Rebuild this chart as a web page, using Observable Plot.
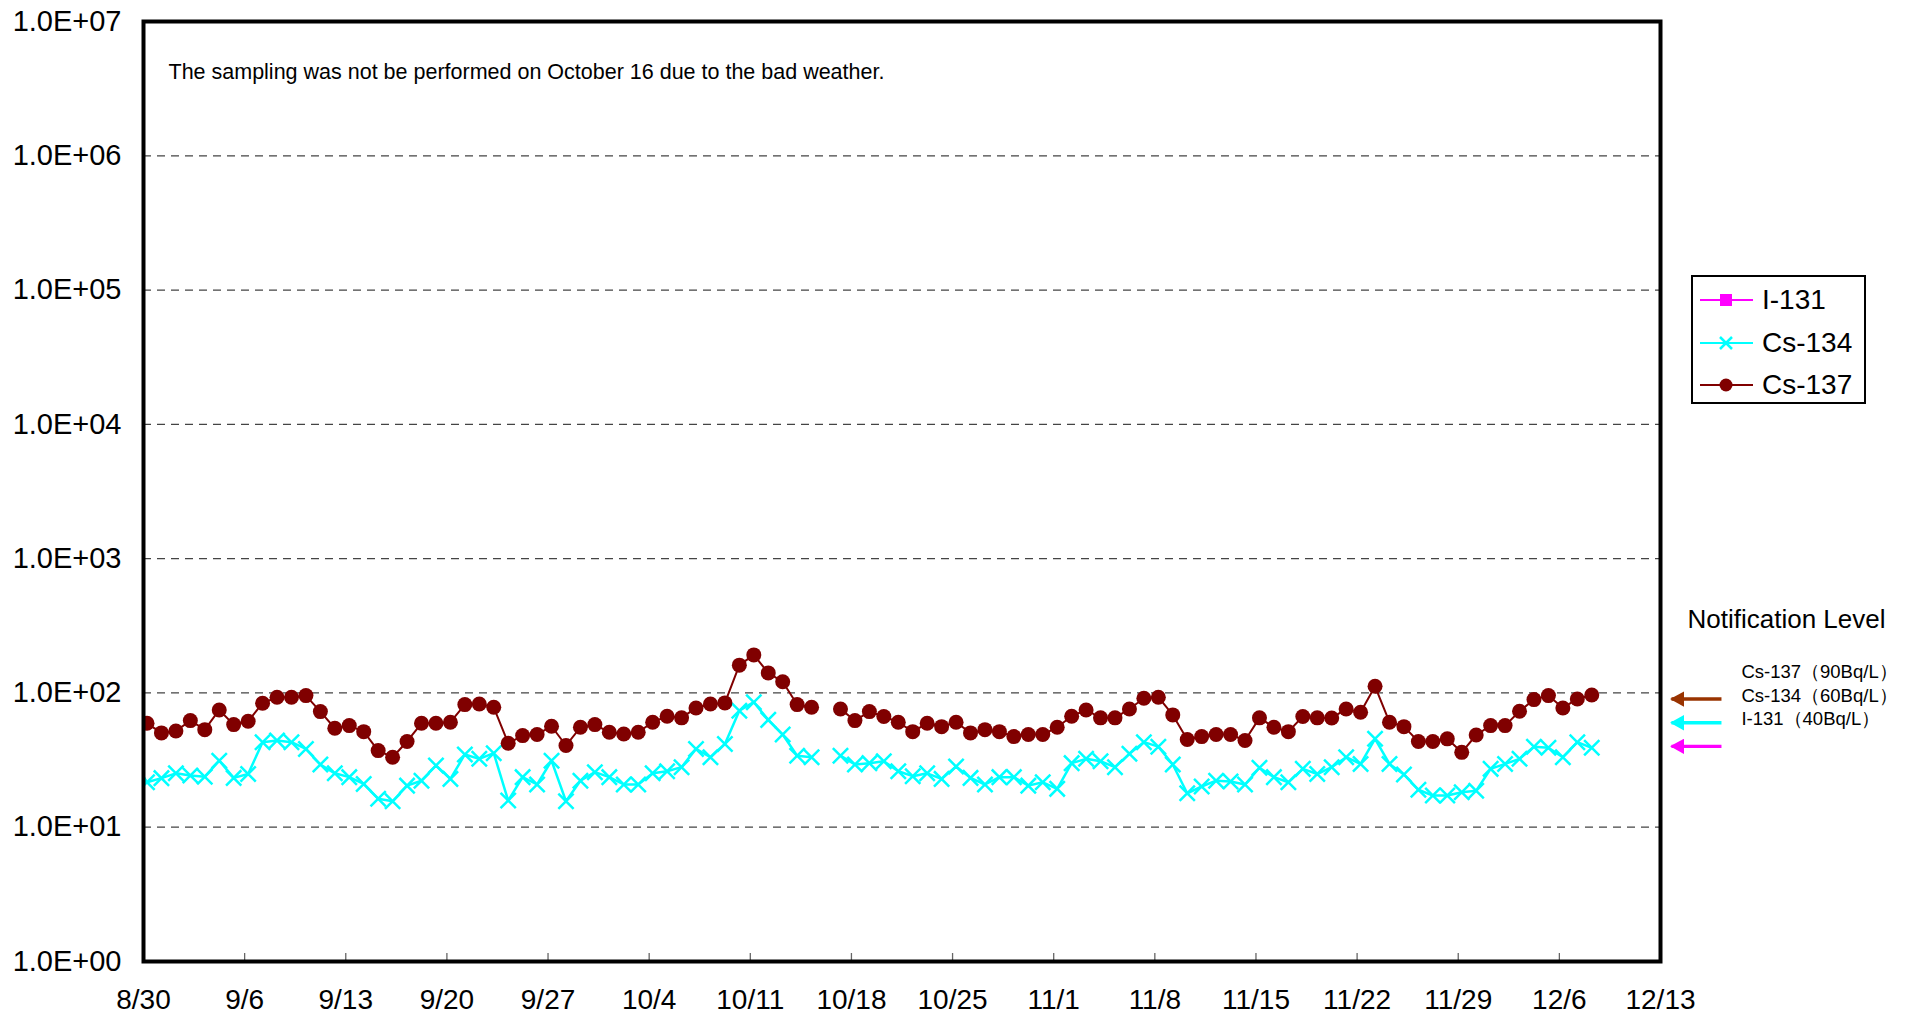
<!DOCTYPE html>
<html>
<head>
<meta charset="utf-8">
<script src="https://cdn.jsdelivr.net/npm/d3@7"></script>
<script src="https://cdn.jsdelivr.net/npm/@observablehq/plot@0.6"></script>
<style>
  html, body { margin: 0; padding: 0; background: white; }
  #wrap { position: relative; width: 1910px; height: 1018px; font-family: "Liberation Sans", Arial, sans-serif; }
  #legend { position: absolute; left: 1691px; top: 275px; width: 171px; height: 125px; border: 2px solid #000; background: #fff; }
  .lrow { position: absolute; left: 0; height: 40px; display: flex; align-items: center; }
  .lrow span { font-size: 28px; color: #000; margin-left: 6px; }
</style>
</head>
<body>
<div id="wrap"></div>
<script>
// ---- data ----
const firstDay = "2011-08-29";   // first sampling day in the series (8/29 is cut off by the frame)
const lastDay = "2011-12-08";
const cs137 = [66,
  59.4, 50.4, 52.1, 62.2, 53.3, 74.7, 58.1, 61.5, 83.8, 92.9, 92.9, 95.5, 72.6, 54.6, 57.1, 51.5, 37.2, 33.2, 43.5, 59.4,
  59.4, 60.5, 81.9, 82.8, 78.2, 42.2, 48.1, 49.0, 56.5, 40.6, 55.5, 58.1, 50.9, 49.5, 51.0, 60.5, 67.0, 65.2, 77.3, 82.8,
  84.3, 161, 192, 141, 121, 81.9, 78.2, null, 76.0, 62.2, 72.6, 66.7, 60.5, 51.5, 59.4, 56.1, 60.5, 50.4, 53.3, 51.5,
  47.3, 49.0, 49.0, 55.5, 67.0, 74.7, 65.2, 65.2, 76.0, 91.2, 92.9, 68.6, 45.0, 47.3, 49.0, 49.0, 44.2, 65.2, 55.5, 51.5,
  66.7, 65.2, 65.0, 76.0, 71.8, 112, 60.5, 56.1, 43.5, 43.5, 45.5, 36.1, 48.6, 57.1, 57.1, 73.1, 89.2, 95.5, 77.3, 90.2,
  96.6];
const cs134 = [32.7,
  21.6, 23.2, 25.2, 24.3, 23.8, 31.3, 23.3, 24.9, 43.0, 44.2, 43.0, 38.3, 29.3, 25.2, 23.6, 21.0, 16.3, 15.6, 20.4, 22.2,
  28.8, 22.9, 34.8, 32.3, 35.6, 15.8, 23.6, 20.8, 31.3, 15.6, 22.2, 25.7, 23.6, 20.8, 20.8, 25.2, 26.1, 28.0, 38.3, 33.2,
  41.7, 73.8, 85.3, 63.0, 49.0, 34.1, 33.2, null, 34.1, 29.3, 30.0, 31.0, 26.1, 24.0, 25.2, 22.9, 28.3, 23.3, 20.8, 23.6,
  23.6, 20.4, 21.6, 19.3, 30.0, 32.3, 31.0, 28.0, 35.2, 43.0, 39.8, 29.3, 17.9, 20.1, 22.2, 21.9, 20.8, 27.7, 23.6, 21.6,
  27.2, 24.9, 28.0, 33.2, 29.6, 45.5, 29.6, 24.7, 19.0, 17.2, 17.2, 18.2, 18.7, 27.2, 29.6, 32.3, 39.8, 39.0, 33.2, 43.0,
  39.0];
const seriesNames = ["I-131", "Cs-134", "Cs-137"];
const seriesColors = ["#FF00FF", "#00FFFF", "#800000"];
const xTickLabels = ["8/30","9/6","9/13","9/20","9/27","10/4","10/11","10/18","10/25","11/1","11/8","11/15","11/22","11/29","12/6","12/13"];
const xTickDates = ["2011-08-30","2011-09-06","2011-09-13","2011-09-20","2011-09-27","2011-10-04","2011-10-11","2011-10-18","2011-10-25","2011-11-01","2011-11-08","2011-11-15","2011-11-22","2011-11-29","2011-12-06","2011-12-13"];
const yTicks = [1, 10, 100, 1e3, 1e4, 1e5, 1e6, 1e7];
const levelNames = ["Cs-137（90Bq/L）", "Cs-134（60Bq/L）", "I-131（40Bq/L）"];
const levelValues = [90, 60, 40];
const levelColors = ["#993300", "#00FFFF", "#FF00FF"];
const noteText = "The sampling was not be performed on October 16 due to the bad weather.";
const levelTitle = "Notification Level";

// ---- build ----
const parse = d3.utcParse("%Y-%m-%d");
const dates = d3.utcDay.range(parse(firstDay), d3.utcDay.offset(parse(lastDay), 1));
const rows = dates.map((d, i) => ({date: d, cs137: cs137[i], cs134: cs134[i]}));
const ticks = xTickDates.map(parse);
const tickLabel = new Map(ticks.map((d, i) => [+d, xTickLabels[i]]));
const xEnd = ticks[ticks.length - 1];
const DAY = 864e5;
const levels = levelValues.map((v, i) => ({name: levelNames[i], value: v, color: levelColors[i]}));

function filledArrow(color) {
  const m = d3.create("svg:marker")
    .attr("viewBox", "-5 -5 10 10")
    .attr("refX", 4)
    .attr("markerWidth", 4.2)
    .attr("markerHeight", 4.6)
    .attr("orient", "auto")
    .attr("fill", color)
    .attr("stroke", "none");
  m.append("path").attr("d", "M-5,-5.5L5,0L-5,5.5Z");
  return m.node();
}

const yFmt = d => "1.0E+" + String(Math.round(Math.log10(d))).padStart(2, "0");
const shift = 3.5; // sample markers sit slightly right of the date ticks in the reference

const chart = Plot.plot({
  width: 1910,
  height: 1018,
  marginLeft: 143,
  marginRight: 250,
  marginTop: 21,
  marginBottom: 57,
  style: {fontFamily: "'Liberation Sans', Arial, sans-serif", background: "white", color: "black", overflow: "visible"},
  x: {type: "utc", domain: [ticks[0], xEnd]},
  y: {type: "log", domain: [1, 1e7]},
  marks: [
    Plot.gridY(yTicks.slice(1, -1), {stroke: "#444", strokeOpacity: 1, strokeWidth: 1.3, strokeDasharray: "8,6"}),
    Plot.axisY(yTicks, {tickSize: 0, tickPadding: 22, tickFormat: yFmt, fontSize: 29}),
    Plot.axisX(ticks, {tickSize: 0, tickPadding: 28, tickFormat: d => tickLabel.get(+d), fontSize: 28}),
    Plot.ruleX(ticks, {x: d => d, insetTop: 932, stroke: "#666", strokeWidth: 1.3}),
    Plot.line(rows, {x: "date", y: "cs134", dx: shift, stroke: seriesColors[1], strokeWidth: 2.5, clip: true}),
    Plot.dot(rows, {x: "date", y: "cs134", dx: shift, symbol: "times", r: 7, stroke: seriesColors[1], strokeWidth: 2.5, clip: true}),
    Plot.line(rows, {x: "date", y: "cs137", dx: shift, stroke: seriesColors[2], strokeWidth: 2, clip: true}),
    Plot.dot(rows, {x: "date", y: "cs137", dx: shift, r: 7.5, fill: seriesColors[2], stroke: "none", clip: true}),
    Plot.frame({stroke: "black", strokeWidth: 4}),
    Plot.text([noteText], {frameAnchor: "top-left", dx: 25, dy: 51, textAnchor: "start", lineAnchor: "middle", fontSize: 21.5, fill: "black"}),
    Plot.text([levelTitle], {frameAnchor: "right", dx: 27, dy: 128, textAnchor: "start", lineAnchor: "middle", fontSize: 26, fill: "black"}),
    Plot.link(levels, {
      x1: () => new Date(+xEnd + 4.22 * DAY), x2: () => new Date(+xEnd + 0.76 * DAY),
      y1: "value", y2: "value", stroke: "color", strokeWidth: 3.4, markerEnd: filledArrow
    }),
    Plot.text(levels, {x: () => new Date(+xEnd + 5.6 * DAY), y: "value", text: "name", dy: -27, textAnchor: "start", lineAnchor: "middle", fontSize: 18.5, fill: "black"})
  ]
});

const wrap = document.getElementById("wrap");
wrap.appendChild(chart);

// legend (order as in reference: I-131, Cs-134, Cs-137)
const legend = document.createElement("div");
legend.id = "legend";
const symbols = [
  c => `<rect x="20" y="14" width="12" height="12" fill="${c}"/>`,
  c => `<path d="M20,14L32,26M32,14L20,26" stroke="${c}" stroke-width="2.5"/>`,
  c => `<circle cx="26" cy="20" r="6.5" fill="${c}"/>`
];
seriesNames.forEach((name, i) => {
  const row = document.createElement("div");
  row.className = "lrow";
  row.style.top = (3 + i * 42.5) + "px";
  row.innerHTML = `<svg width="56" height="40" style="margin-left:7px"><line x1="0" x2="53" y1="20" y2="20" stroke="${seriesColors[i]}" stroke-width="2"/>${symbols[i](seriesColors[i])}</svg><span>${name}</span>`;
  legend.appendChild(row);
});
wrap.appendChild(legend);
</script>
</body>
</html>
